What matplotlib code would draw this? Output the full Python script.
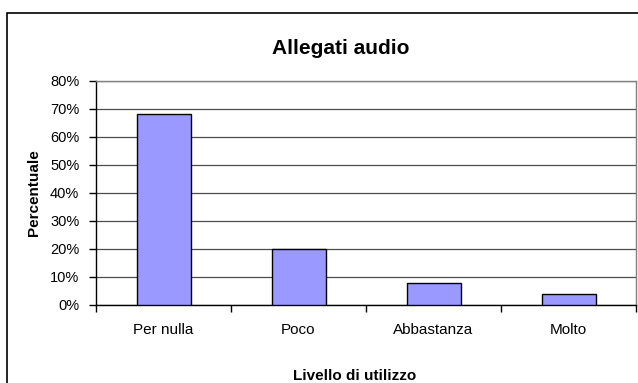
import matplotlib.pyplot as plt
import numpy as np
from matplotlib.patches import Rectangle

categories = ['Per nulla', 'Poco', 'Abbastanza', 'Molto']
values = [68.2, 19.9, 7.8, 3.9]
y_ticks = [0, 10, 20, 30, 40, 50, 60, 70, 80]

plt.rcParams['font.family'] = ['Liberation Sans', 'DejaVu Sans']

W, H = 638, 383
fig = plt.figure(figsize=(W / 100, H / 100), dpi=100)

# outer chart border (right and bottom are clipped in the original)
fig.patches.append(Rectangle((7 / W, -0.1), 1.2, 1.1 - 13 / H, transform=fig.transFigure,
                             fill=False, edgecolor='black', linewidth=1.2))

ax = fig.add_axes([96 / W, 1 - 305 / H, 540 / W, 224 / H])

x = np.arange(len(categories))
ax.bar(x, values, width=0.4, color='#9999ff', edgecolor='black', linewidth=1.0, zorder=3)

ax.set_xlim(-0.5, len(categories) - 0.5)
ax.set_ylim(0, 80)
ax.set_yticks(y_ticks)
ax.set_yticklabels([f'{v}%' for v in y_ticks], fontsize=10.5)
ax.yaxis.grid(True, color='#4d4d4d', linewidth=0.9, zorder=0)

ax.set_xticks(x)
ax.set_xticklabels(categories, fontsize=11)
ax.tick_params(axis='x', which='major', length=0, pad=13)
ax.set_xticks(np.arange(-0.5, len(categories), 1.0), minor=True)
ax.tick_params(axis='x', which='minor', length=5, width=1, color='black')
ax.tick_params(axis='y', length=5, width=1, pad=7)

for side in ['top', 'right']:
    ax.spines[side].set_color('#808080')
    ax.spines[side].set_linewidth(1.0)
for side in ['left', 'bottom']:
    ax.spines[side].set_color('black')
    ax.spines[side].set_linewidth(1.0)

fig.text(341 / W, 1 - 48 / H, 'Allegati audio', ha='center', va='center',
         fontsize=15, fontweight='bold')
fig.text(355 / W, 1 - 376 / H, 'Livello di utilizzo', ha='center', va='center',
         fontsize=11, fontweight='bold')
fig.text(34 / W, 1 - 193 / H, 'Percentuale', ha='center', va='center',
         rotation=90, fontsize=11, fontweight='bold')

fig.savefig('out.png', dpi=100)
